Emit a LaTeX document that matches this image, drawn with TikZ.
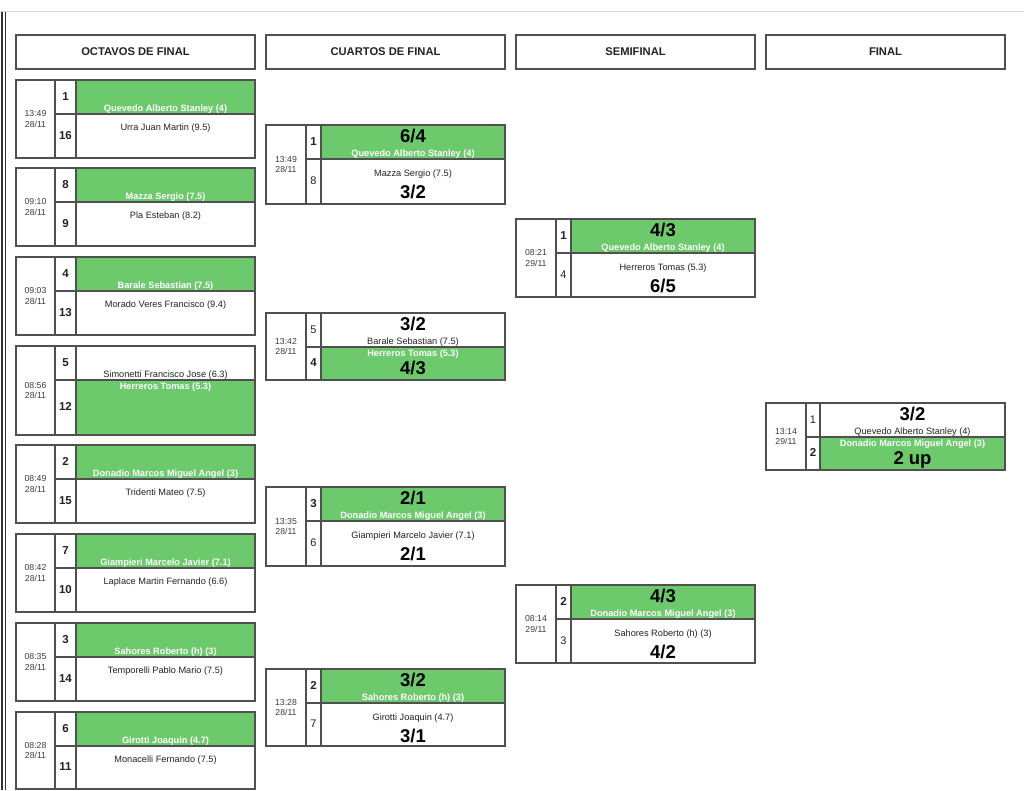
\documentclass[tikz,border=0pt]{standalone}
\usepackage{fontspec}
\setmainfont{Liberation Sans}
\definecolor{win}{RGB}{108,201,108}
\definecolor{bord}{RGB}{80,80,80}
\definecolor{txt}{RGB}{34,34,34}
\definecolor{datec}{RGB}{60,60,60}
\tikzset{
  cell/.style={draw=bord, line width=1.5pt},
  hdrbox/.style={draw=bord, line width=1.5pt, minimum width=239pt, minimum height=34pt, inner sep=0pt,
    font=\bfseries\fontsize{11.2}{13}\selectfont, text=txt},
  base/.style={inner sep=0pt, text height=1.5ex, text depth=.25ex},
  nm/.style={base, font=\fontsize{9.2}{11}\selectfont, text=txt},
  wnm/.style={base, font=\bfseries\fontsize{9.2}{11}\selectfont, text=white},
  sc/.style={base, font=\bfseries\fontsize{18.5}{20}\selectfont, text=black},
  sd/.style={base, font=\fontsize{11}{13}\selectfont, text=txt},
  bsd/.style={base, font=\bfseries\fontsize{11.5}{13}\selectfont, text=txt},
  dt/.style={inner sep=0pt, align=center, font=\fontsize{8.7}{10.5}\selectfont, text=datec},
}
\pgfkeys{/m/x/.store in=\mX, /m/t/.store in=\mT, /m/b/.store in=\mB, /m/w/.store in=\mW,
  /m/dw/.store in=\mDW, /m/sr/.store in=\mSR, /m/dt/.store in=\mDT, /m/sa/.store in=\mSA,
  /m/sb/.store in=\mSB, /m/na/.store in=\mNA, /m/nb/.store in=\mNB, /m/ca/.store in=\mCA,
  /m/cb/.store in=\mCB, /m/id/.store in=\mId, /m/oct/.store in=\mOct}
\def\mEmpty{}
\newcommand\match[1]{%
  \pgfkeys{/m/.cd, x=16, w=1, dw=39, sr=60, ca=, cb=, oct=1, #1}%
  \pgfmathsetmacro\mS{\mT+34}%
  \pgfmathsetmacro\mR{\mX+239}%
  \ifnum\mW=1
    \fill[win] ({\mX+\mSR},\mT) rectangle (\mR,\mS);
    \tikzset{nA/.style={wnm}, nB/.style={nm}}%
    \pgfmathsetmacro\mYB{\mT+48}\pgfmathsetmacro\mYC{\mT+70}%
  \else
    \fill[win] ({\mX+\mSR},\mS) rectangle (\mR,\mB);
    \tikzset{nA/.style={nm}, nB/.style={wnm}}%
    \pgfmathsetmacro\mYB{\mT+40}\pgfmathsetmacro\mYC{\mT+58}%
  \fi
  \ifnum\mOct=1
    \tikzset{sA/.style={bsd}, sB/.style={bsd}}%
    \pgfmathsetmacro\mYB{\mT+47.5}%
    \ifnum\mW=2 \pgfmathsetmacro\mYB{\mT+40}\fi
  \else
    \ifnum\mW=1 \tikzset{sA/.style={bsd}, sB/.style={sd}}%
    \else \tikzset{sA/.style={sd}, sB/.style={bsd}}\fi
  \fi
  \draw[cell] (\mX,\mT) rectangle (\mR,\mB);
  \draw[cell] ({\mX+\mDW},\mT) -- ({\mX+\mDW},\mB);
  \draw[cell] ({\mX+\mSR},\mT) -- ({\mX+\mSR},\mB);
  \draw[cell] ({\mX+\mDW},\mS) -- (\mR,\mS);
  \node[dt] (\mId-date) at ({\mX+\mDW/2},{(\mT+\mB)/2}) {\mDT};
  \node[sA] (\mId-s1) at ({\mX+(\mDW+\mSR)/2},{(\mT+\mS)/2}) {\mSA};
  \node[sB] (\mId-s2) at ({\mX+(\mDW+\mSR)/2},{(\mS+\mB)/2}) {\mSB};
  \node[nA] (\mId-n1) at ({(\mX+\mSR+\mR)/2},{\mT+28}) {\mNA};
  \node[nB] (\mId-n2) at ({(\mX+\mSR+\mR)/2},\mYB) {\mNB};
  \ifx\mCA\mEmpty\else
    \node[sc] (\mId-c1) at ({(\mX+\mSR+\mR)/2},{\mT+14.5}) {\mCA};
    \node[sc] (\mId-c2) at ({(\mX+\mSR+\mR)/2},\mYC) {\mCB};
  \fi
}
\begin{document}
\begin{tikzpicture}[x=1pt,y=-1pt]
\useasboundingbox (0,0) rectangle (1024,790);
\fill[white] (0,0) rectangle (1024,790);
% page chrome
\draw[line width=1pt, black!15] (0,11) -- (1024,11);
\draw[line width=1.2pt, black!80] (2,12) -- (2,790);
\draw[line width=1.2pt, black!80] (5.5,12) -- (5.5,790);
% headers
\node[hdrbox] (h1) at (135.5,52) {OCTAVOS DE FINAL};
\node[hdrbox] (h2) at (385.5,52) {CUARTOS DE FINAL};
\node[hdrbox] (h3) at (635.5,52) {SEMIFINAL};
\node[hdrbox] (h4) at (885.5,52) {FINAL};
% octavos
\match{id=o1, t=80, b=158, dt={13:49\\28/11}, sa=1, sb=16, na={Quevedo Alberto Stanley (4)}, nb={Urra Juan Martin (9.5)}}
\match{id=o2, t=168, b=246, dt={09:10\\28/11}, sa=8, sb=9, na={Mazza Sergio (7.5)}, nb={Pla Esteban (8.2)}}
\match{id=o3, t=257, b=335, dt={09:03\\28/11}, sa=4, sb=13, na={Barale Sebastian (7.5)}, nb={Morado Veres Francisco (9.4)}}
\match{id=o4, t=346, b=435, w=2, dt={08:56\\28/11}, sa=5, sb=12, na={Simonetti Francisco Jose (6.3)}, nb={Herreros Tomas (5.3)}}
\match{id=o5, t=445, b=523, dt={08:49\\28/11}, sa=2, sb=15, na={Donadio Marcos Miguel Angel (3)}, nb={Tridenti Mateo (7.5)}}
\match{id=o6, t=534, b=612, dt={08:42\\28/11}, sa=7, sb=10, na={Giampieri Marcelo Javier (7.1)}, nb={Laplace Martin Fernando (6.6)}}
\match{id=o7, t=623, b=701, dt={08:35\\28/11}, sa=3, sb=14, na={Sahores Roberto (h) (3)}, nb={Temporelli Pablo Mario (7.5)}}
\match{id=o8, t=712, b=789, dt={08:28\\28/11}, sa=6, sb=11, na={Girotti Joaquin (4.7)}, nb={Monacelli Fernando (7.5)}}
% cuartos
\match{id=c1, x=266, dw=40, sr=55, oct=0, t=125, b=204, dt={13:49\\28/11}, sa=1, sb=8, na={Quevedo Alberto Stanley (4)}, nb={Mazza Sergio (7.5)}, ca={6/4}, cb={3/2}}
\match{id=c2, x=266, dw=40, sr=55, oct=0, t=313, b=380, w=2, dt={13:42\\28/11}, sa=5, sb=4, na={Barale Sebastian (7.5)}, nb={Herreros Tomas (5.3)}, ca={3/2}, cb={4/3}}
\match{id=c3, x=266, dw=40, sr=55, oct=0, t=487, b=566, dt={13:35\\28/11}, sa=3, sb=6, na={Donadio Marcos Miguel Angel (3)}, nb={Giampieri Marcelo Javier (7.1)}, ca={2/1}, cb={2/1}}
\match{id=c4, x=266, dw=40, sr=55, oct=0, t=669, b=746, dt={13:28\\28/11}, sa=2, sb=7, na={Sahores Roberto (h) (3)}, nb={Girotti Joaquin (4.7)}, ca={3/2}, cb={3/1}}
% semifinal
\match{id=s1, x=516, dw=40, sr=55, oct=0, t=219, b=297, dt={08:21\\29/11}, sa=1, sb=4, na={Quevedo Alberto Stanley (4)}, nb={Herreros Tomas (5.3)}, ca={4/3}, cb={6/5}}
\match{id=s2, x=516, dw=40, sr=55, oct=0, t=585, b=663, dt={08:14\\29/11}, sa=2, sb=3, na={Donadio Marcos Miguel Angel (3)}, nb={Sahores Roberto (h) (3)}, ca={4/3}, cb={4/2}}
% final
\match{id=f1, x=766, dw=40, sr=54, oct=0, t=403, b=470, w=2, dt={13:14\\29/11}, sa=1, sb=2, na={Quevedo Alberto Stanley (4)}, nb={Donadio Marcos Miguel Angel (3)}, ca={3/2}, cb={2 up}}
\end{tikzpicture}
\end{document}
